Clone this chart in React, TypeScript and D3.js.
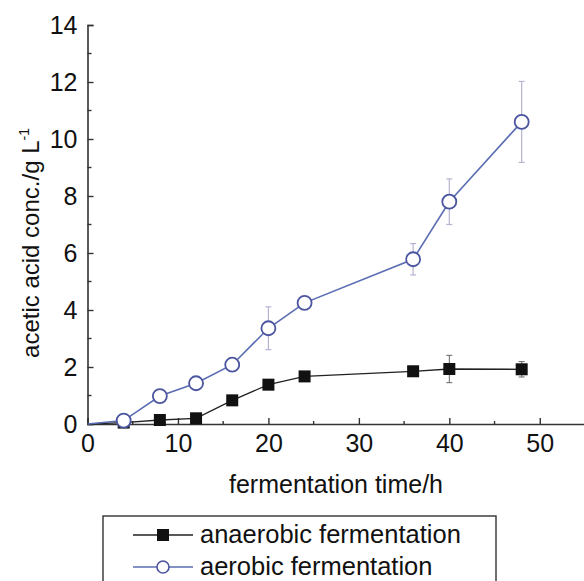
import React, { useEffect, useRef } from "react";
import * as d3 from "d3";

// fermentation time (h)
const hours = [0, 4, 8, 12, 16, 20, 24, 36, 40, 48];
const anaerobic = [0, 0.05, 0.14, 0.2, 0.83, 1.38, 1.67, 1.85, 1.93, 1.92];
const anaerobicErr = [0, 0, 0.05, 0.1, 0.05, 0.15, 0.08, 0.08, 0.48, 0.27];
const aerobic = [0, 0.12, 0.98, 1.43, 2.08, 3.36, 4.25, 5.78, 7.8, 10.6];
const aerobicErr = [0, 0.1, 0.15, 0.12, 0.1, 0.75, 0.1, 0.55, 0.8, 1.42];
const xTicks = [0, 10, 20, 30, 40, 50];
const yTicks = [0, 2, 4, 6, 8, 10, 12, 14];
const legendLabels = ["anaerobic fermentation", "aerobic fermentation"];

const App = () => {
  const ref = useRef<SVGSVGElement>(null);

  useEffect(() => {
    const svg = d3.select(ref.current);
    svg.selectAll("*").remove();
    const font = "'Liberation Sans', Arial, sans-serif";

    const x = d3.scaleLinear().domain([0, 55]).range([87.5, 585]);
    const y = d3.scaleLinear().domain([0, 14]).range([424, 25]);

    const axisColor = "#333";

    // x axis
    const gx = svg.append("g").attr("transform", "translate(0,424)");
    gx.call(
      d3.axisBottom(x).tickValues(xTicks).tickSize(-6).tickPadding(10).tickFormat(d3.format("d"))
    );
    gx.select(".domain").attr("stroke", axisColor).attr("stroke-width", 1.6);
    gx.selectAll(".tick line").attr("stroke", axisColor).attr("stroke-width", 1.4);
    gx.selectAll("text").attr("font-family", font).attr("font-size", 25).attr("fill", "#111");
    gx.selectAll(".minor")
      .data(d3.range(5, 55, 10))
      .enter()
      .append("line")
      .attr("x1", (d) => x(d))
      .attr("x2", (d) => x(d))
      .attr("y1", 0)
      .attr("y2", -3)
      .attr("stroke", axisColor)
      .attr("stroke-width", 1.4);

    // y axis
    const gy = svg.append("g").attr("transform", "translate(87.5,0)");
    gy.call(d3.axisLeft(y).tickValues(yTicks).tickSize(-6).tickPadding(10));
    gy.select(".domain").attr("stroke", axisColor).attr("stroke-width", 1.6);
    gy.selectAll(".tick line").attr("stroke", axisColor).attr("stroke-width", 1.4);
    gy.selectAll("text").attr("font-family", font).attr("font-size", 25).attr("fill", "#111");
    gy.selectAll(".minor")
      .data(d3.range(1, 14, 2))
      .enter()
      .append("line")
      .attr("y1", (d) => y(d))
      .attr("y2", (d) => y(d))
      .attr("x1", 0)
      .attr("x2", 4)
      .attr("stroke", axisColor)
      .attr("stroke-width", 1.4);

    // axis titles
    svg
      .append("text")
      .attr("x", 336)
      .attr("y", 493)
      .attr("text-anchor", "middle")
      .attr("font-family", font)
      .attr("font-size", 25)
      .attr("fill", "#111")
      .text("fermentation time/h");

    const yt = svg
      .append("text")
      .attr("transform", "translate(39,243) rotate(-90)")
      .attr("text-anchor", "middle")
      .attr("font-family", font)
      .attr("font-size", 24)
      .attr("fill", "#111");
    yt.append("tspan").text("acetic acid conc./g L");
    yt.append("tspan").attr("dy", -10).attr("font-size", 14).text("-1");

    const line = d3
      .line<number>()
      .x((_, i) => x(hours[i]))
      .y((d) => y(d));

    // anaerobic series
    const errA = svg.append("g").attr("stroke", "#666").attr("stroke-width", 1);
    hours.forEach((h, i) => {
      if (anaerobicErr[i] <= 0) return;
      const cx = x(h);
      errA.append("line").attr("x1", cx).attr("x2", cx).attr("y1", y(anaerobic[i] + anaerobicErr[i])).attr("y2", y(anaerobic[i] - anaerobicErr[i]));
      errA.append("line").attr("x1", cx - 3).attr("x2", cx + 3).attr("y1", y(anaerobic[i] + anaerobicErr[i])).attr("y2", y(anaerobic[i] + anaerobicErr[i]));
      errA.append("line").attr("x1", cx - 3).attr("x2", cx + 3).attr("y1", y(anaerobic[i] - anaerobicErr[i])).attr("y2", y(anaerobic[i] - anaerobicErr[i]));
    });
    svg.append("path").datum(anaerobic).attr("d", line).attr("fill", "none").attr("stroke", "#222").attr("stroke-width", 1.3);

    // aerobic series
    const errB = svg.append("g").attr("stroke", "#b4b4d2").attr("stroke-width", 1.2);
    hours.forEach((h, i) => {
      if (aerobicErr[i] <= 0) return;
      const cx = x(h);
      errB.append("line").attr("x1", cx).attr("x2", cx).attr("y1", y(aerobic[i] + aerobicErr[i])).attr("y2", y(aerobic[i] - aerobicErr[i]));
      errB.append("line").attr("x1", cx - 3).attr("x2", cx + 3).attr("y1", y(aerobic[i] + aerobicErr[i])).attr("y2", y(aerobic[i] + aerobicErr[i]));
      errB.append("line").attr("x1", cx - 3).attr("x2", cx + 3).attr("y1", y(aerobic[i] - aerobicErr[i])).attr("y2", y(aerobic[i] - aerobicErr[i]));
    });
    svg.append("path").datum(aerobic).attr("d", line).attr("fill", "none").attr("stroke", "#5b6db2").attr("stroke-width", 1.6);

    svg
      .selectAll(".sq")
      .data(anaerobic.slice(1))
      .enter()
      .append("rect")
      .attr("x", (_, i) => x(hours[i + 1]) - 6)
      .attr("y", (d) => y(d) - 6)
      .attr("width", 12)
      .attr("height", 12)
      .attr("fill", "#111");

    svg
      .selectAll(".ci")
      .data(aerobic.slice(1))
      .enter()
      .append("circle")
      .attr("cx", (_, i) => x(hours[i + 1]))
      .attr("cy", (d) => y(d))
      .attr("r", 7)
      .attr("fill", "white")
      .attr("stroke", "#4b559f")
      .attr("stroke-width", 1.8);

    // legend
    svg
      .append("rect")
      .attr("x", 103)
      .attr("y", 516)
      .attr("width", 393)
      .attr("height", 80)
      .attr("fill", "white")
      .attr("stroke", "#222")
      .attr("stroke-width", 1.3);

    const rows = [535, 567];
    legendLabels.forEach((label, i) => {
      const ly = rows[i];
      svg
        .append("line")
        .attr("x1", 133)
        .attr("x2", 193)
        .attr("y1", ly)
        .attr("y2", ly)
        .attr("stroke", i === 0 ? "#222" : "#5b6db2")
        .attr("stroke-width", 1.3);
      if (i === 0) {
        svg.append("rect").attr("x", 157).attr("y", ly - 6).attr("width", 12).attr("height", 12).attr("fill", "#111");
      } else {
        svg.append("circle").attr("cx", 163).attr("cy", ly).attr("r", 6).attr("fill", "white").attr("stroke", "#4b559f").attr("stroke-width", 1.6);
      }
      svg
        .append("text")
        .attr("x", 200)
        .attr("y", ly + 8)
        .attr("font-family", font)
        .attr("font-size", 25.5)
        .attr("fill", "#111")
        .text(label);
    });
  }, []);

  return (
    <svg
      ref={ref}
      width={584}
      height={581}
      style={{ position: "absolute", left: 0, top: 0, background: "white" }}
    />
  );
};

export default App;
